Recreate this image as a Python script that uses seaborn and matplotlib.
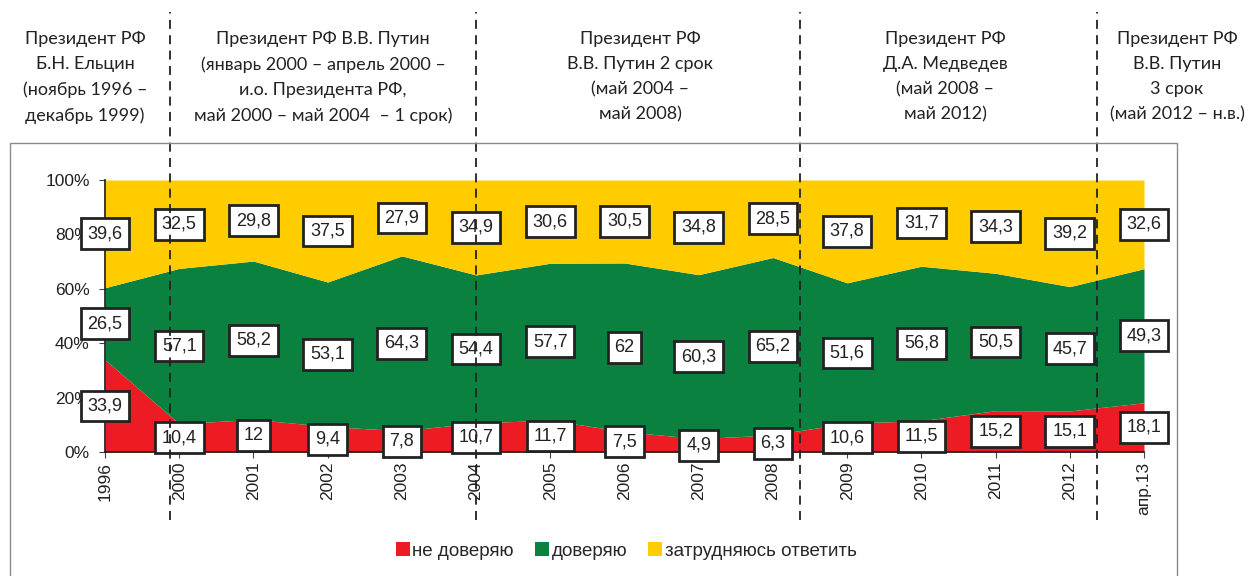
import matplotlib
matplotlib.use("Agg")
import matplotlib.pyplot as plt
from matplotlib.patches import Patch, Rectangle
import numpy as np
import seaborn as sns

# Данные
годы = ["1996", "2000", "2001", "2002", "2003", "2004", "2005", "2006",
        "2007", "2008", "2009", "2010", "2011", "2012", "апр.13"]
не_доверяю = [33.9, 10.4, 12, 9.4, 7.8, 10.7, 11.7, 7.5, 4.9, 6.3, 10.6, 11.5, 15.2, 15.1, 18.1]
доверяю = [26.5, 57.1, 58.2, 53.1, 64.3, 54.4, 57.7, 62, 60.3, 65.2, 51.6, 56.8, 50.5, 45.7, 49.3]
затрудняюсь = [39.6, 32.5, 29.8, 37.5, 27.9, 34.9, 30.6, 30.5, 34.8, 28.5, 37.8, 31.7, 34.3, 39.2, 32.6]
серии = ["не доверяю", "доверяю", "затрудняюсь ответить"]
цвета = ["#ED1C24", "#0B8140", "#FFCC00"]

# Границы президентских сроков (в позициях оси x)
границы = [0.88, 5.0, 9.37, 13.37]
периоды = [
    "Президент РФ\nБ.Н. Ельцин\n(ноябрь 1996 –\nдекабрь 1999)",
    "Президент РФ В.В. Путин\n(январь 2000 – апрель 2000 –\nи.о. Президента РФ,\nмай 2000 – май 2004  – 1 срок)",
    "Президент РФ\nВ.В. Путин 2 срок\n(май 2004 –\nмай 2008)",
    "Президент РФ\nД.А. Медведев\n(май 2008 –\nмай 2012)",
    "Президент РФ\nВ.В. Путин\n3 срок\n(май 2012 – н.в.)",
]
центры_периодов = [85, 323, 640, 945, 1177]

sns.set_theme(style="ticks")
plt.rcParams["font.family"] = ["Liberation Sans", "DejaVu Sans"]

W, H = 1259, 576
fig = plt.figure(figsize=(W / 100, H / 100), dpi=100)
ax = fig.add_axes([105 / W, 1 - 452 / H, (1144 - 105) / W, (452 - 180) / H])

x = np.arange(len(годы))
ax.stackplot(x, не_доверяю, доверяю, затрудняюсь, colors=цвета, linewidth=0)
ax.set_xlim(0, len(годы) - 1)
ax.set_ylim(0, 100)
ax.set_yticks([0, 20, 40, 60, 80, 100])
ax.set_yticklabels(["0%", "20%", "40%", "60%", "80%", "100%"], fontsize=12.5, color="#222222")
ax.set_xticks(x)
ax.set_xticklabels(годы, rotation=90, fontsize=12.5, color="#222222")
ax.tick_params(axis="y", length=4, width=0.8, color="#444444", pad=7)
ax.tick_params(axis="x", length=4, width=0.8, color="#444444", pad=3)
for s in ["top", "right"]:
    ax.spines[s].set_visible(False)
ax.spines["left"].set_color("#222222")
ax.spines["bottom"].set_color("#222222")

# Подписи значений в рамках
низ = np.zeros(len(годы))
for ряд in [не_доверяю, доверяю, затрудняюсь]:
    v = np.array(ряд, dtype=float)
    for i in range(len(годы)):
        ax.text(x[i], низ[i] + v[i] / 2, f"{ряд[i]}".replace(".", ","),
                ha="center", va="center", fontsize=13, color="#222222", zorder=5,
                bbox=dict(boxstyle="square,pad=0.38", fc="white", ec="#222222", lw=2),
                clip_on=False)
    низ += v

# Штриховые линии границ сроков
for b in границы:
    ax.axvline(b, ymin=(452 - 520) / 272, ymax=(452 - 12) / 272, clip_on=False,
               color="#222222", lw=1.3, ls=(0, (5, 3.5)), zorder=6)

# Рамка диаграммы
fig.patches.append(Rectangle((10 / W, -0.05), (1177 - 10) / W, 1.05 - 143 / H,
                             transform=fig.transFigure, fill=False, ec="#8a8a8a", lw=1))

# Заголовки периодов
for txt, cx in zip(периоды, центры_периодов):
    fig.text(cx / W, 1 - 31 / H, txt, ha="center", va="top", fontsize=13,
             family=["Lato", "DejaVu Sans"], color="#222222", linespacing=1.7)

# Легенда
handles = [Patch(facecolor=c, edgecolor="none") for c in цвета]
fig.legend(handles, серии, loc="center", bbox_to_anchor=(626 / W, 1 - 551 / H), ncol=3,
           frameon=False, fontsize=13.5, handlelength=0.75, handleheight=0.75,
           handletextpad=0.15, columnspacing=1.1)

fig.savefig("out.png", dpi=100)
